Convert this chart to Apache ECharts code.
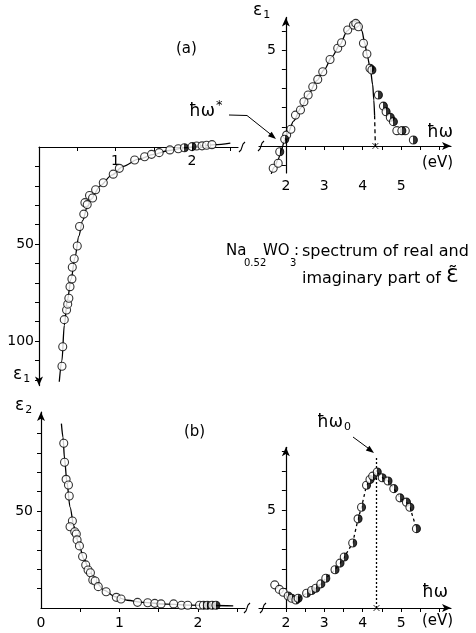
<!DOCTYPE html>
<html>
<head>
<meta charset="utf-8">
<script src="https://cdn.jsdelivr.net/npm/echarts@6/dist/echarts.min.js"></script>
<style>
html, body { margin: 0; padding: 0; background: #fff; }
#chart { width: 476px; height: 633px; }
</style>
</head>
<body>
<div id="chart"></div>
<script>
// Na0.52WO3 - eps1 (a) and eps2 (b) against photon energy (eV)

// (a) eps1, Drude part (left, broken axis)
const e1LowOpen = [[0.30,-113],[0.31,-103],[0.33,-89],[0.36,-84],[0.375,-81],[0.39,-78],[0.405,-72],[0.43,-68],[0.435,-62],[0.46,-57.6],[0.50,-51],[0.53,-41],[0.585,-34.6],[0.60,-28.7],[0.63,-29.7],[0.66,-25],[0.70,-26.3],[0.74,-22],[0.84,-18.4],[0.97,-14],[1.05,-11],[1.25,-6.7],[1.38,-5],[1.47,-3.8],[1.57,-2.9],[1.71,-1.5],[1.82,-0.9],[2.06,0.5],[2.13,0.6],[2.19,0.9],[2.26,1.2]];
const e1LowHalf = [[1.90,-0.4],[2.00,0.2]];
const e1LowCurve = [[0.265,-121],[0.30,-110],[0.33,-92],[0.37,-79],[0.42,-68],[0.47,-57],[0.52,-46],[0.57,-38],[0.63,-31],[0.70,-25.5],[0.80,-20],[0.95,-14.5],[1.10,-10],[1.30,-6.3],[1.50,-3.8],[1.70,-1.8],[1.90,-0.4],[2.10,0.5],[2.30,1.2],[2.50,2]];

// (a) eps1, interband part (right)
const e1HighOpen = [[1.67,-1.16],[1.80,-0.90],[2.02,0.57],[2.13,0.87],[2.25,1.61],[2.38,1.88],[2.47,2.31],[2.58,2.66],[2.70,3.09],[2.83,3.47],[2.96,3.87],[3.15,4.51],[3.35,5.09],[3.45,5.38],[3.61,6.04],[3.76,6.30],[3.82,6.39],[3.89,6.21],[4.02,5.35],[4.11,4.79],[4.89,0.80],[5.11,0.80]];
const e1HighHalf = [[1.84,-0.30],[1.97,0.35],[4.19,4.05],[4.24,3.96],[4.41,2.66],[4.54,2.08],[4.61,1.79],[4.72,1.49],[4.80,1.27],[5.02,0.80],[5.32,0.31]];
const e1HighCurve = [[1.62,-1.45],[1.70,-1.1],[1.80,-0.7],[1.88,-0.2],[1.97,0.3],[2.05,0.65],[2.20,1.3],[2.40,2.0],[2.60,2.72],[2.80,3.4],[3.00,3.98],[3.20,4.65],[3.40,5.25],[3.60,6.0],[3.76,6.4],[3.85,6.55],[3.92,6.45],[3.98,6.0],[4.05,5.4],[4.12,4.7],[4.20,4.0],[4.26,3.2],[4.29,2.4],[4.31,1.6]];
const e1HighDash = [[4.31,1.6],[4.33,0]];
const e1Cross = [[4.33,0]];

// (b) eps2, Drude part (left)
const e2LowOpen = [[0.29,84.9],[0.30,75.1],[0.32,66.3],[0.35,63.4],[0.36,57.7],[0.40,44.8],[0.37,41.9],[0.43,39.3],[0.45,38.1],[0.46,35.1],[0.49,32.0],[0.53,26.5],[0.57,22.2],[0.60,19.6],[0.63,18.2],[0.66,14.4],[0.69,13.9],[0.73,11.0],[0.83,8.4],[0.96,5.5],[1.02,4.6],[1.23,2.9],[1.36,2.7],[1.45,2.4],[1.53,2.1],[1.69,2.1],[1.79,1.4],[1.87,1.4],[2.02,1.4]];
const e2LowHalf = [[2.07,1.4],[2.12,1.4],[2.18,1.4],[2.23,1.4]];
const e2LowCurve = [[0.26,95],[0.28,88],[0.30,77],[0.33,65],[0.37,52],[0.42,42],[0.48,33],[0.55,25],[0.62,19],[0.70,13.5],[0.80,9.2],[0.95,5.8],[1.10,4.0],[1.30,2.9],[1.60,2.0],[1.90,1.5],[2.20,1.3],[2.45,1.1]];

// (b) eps2, interband part (right)
const e2HighOpen = [[1.71,1.18],[1.83,0.95],[1.93,0.80]];
const e2HighHalf = [[2.06,0.61],[2.15,0.50],[2.26,0.41],[2.32,0.50],[2.54,0.75],[2.67,0.89],[2.78,1.01],[2.91,1.23],[3.04,1.52],[3.28,1.95],[3.41,2.29],[3.52,2.60],[3.74,3.32],[3.88,4.55],[3.97,5.14],[4.10,6.26],[4.19,6.56],[4.26,6.73],[4.38,6.94],[4.51,6.65],[4.66,6.48],[4.81,6.09],[4.97,5.62],[5.14,5.40],[5.23,5.14],[5.40,4.05]];
const hw0Line = [[4.36,0],[4.36,7.75]];
const e2Cross = [[4.36,0]];

// ticks / labels
const aLowXTicks = [0.5,1,1.5,2,2.5];
const aLowXLabels = [1,2];
const aLowYTicks = [-10,-20,-30,-40,-50,-60,-70,-80,-90,-100,-110,-120];
const aLowYLabels = [-50,-100];
const highXTicks = [2,2.5,3,3.5,4,4.5,5,5.5,6];
const highXLabels = [2,3,4,5];
const aHighYTicks = [-1,1,2,3,4,5,6];
const aHighYLabels = [5];
const bLowXTicks = [0.5,1,1.5,2,2.5];
const bLowXLabels = [0,1,2];
const bLowYTicks = [10,20,30,40,50,60,70,80,90];
const bLowYLabels = [50];
const bHighYTicks = [1,2,3,4,5,6,7,8];
const bHighYLabels = [5];

const FONT = 'DejaVu Sans';
const HIGH_MIN = 1.3, HIGH_MAX = 6.3, HIGH_W = 192;
// the right-hand eps axes stand at hw = 2 eV, inside their grids
const highYOffset = -(2 - HIGH_MIN) / (HIGH_MAX - HIGH_MIN) * HIGH_W;

const chart = echarts.init(document.getElementById('chart'));

const openStyle = { color: '#fff', borderColor: '#000', borderWidth: 1.1 };
const halfStyle = {
    color: new echarts.graphic.LinearGradient(0, 0, 1, 0, [
        { offset: 0, color: '#fff' }, { offset: 0.5, color: '#fff' },
        { offset: 0.5, color: '#000' }, { offset: 1, color: '#000' }
    ]),
    borderColor: '#000', borderWidth: 1.1
};
const crossStyle = { color: 'none', borderColor: '#000', borderWidth: 1 };

function axisLine(symbol) {
    return { show: true, onZero: true, symbol: symbol, symbolSize: [6, 9], lineStyle: { color: '#000', width: 1.2 } };
}
function ticks(values, inside) {
    return { show: true, inside: !!inside, length: 4, customValues: values, lineStyle: { color: '#000', width: 1 } };
}
function labels(values, extra) {
    return Object.assign({
        show: true, customValues: values, color: '#000', fontFamily: FONT, fontSize: 14,
        formatter: v => String(Math.abs(v))
    }, extra || {});
}
function scatter(data, xi, style) {
    return { type: 'scatter', xAxisIndex: xi, yAxisIndex: xi, data: data, symbol: 'circle', symbolSize: 8, itemStyle: style, clip: false, z: 4, silent: true };
}
function curve(data, xi, lineType, smooth) {
    return { type: 'line', xAxisIndex: xi, yAxisIndex: xi, data: data, showSymbol: false, symbol: 'none', smooth: smooth, smoothMonotone: 'x', clip: false, z: 3, silent: true, lineStyle: { color: '#000', width: 1.3, type: lineType } };
}
function cross(data, xi) {
    return { type: 'scatter', xAxisIndex: xi, yAxisIndex: xi, data: data, symbol: 'path://M0,0L10,10M10,0L0,10', symbolSize: 6, itemStyle: crossStyle, clip: false, z: 5, silent: true };
}

// small helpers for the hand drawn decorations
function breakMark(x, y) {
    return { type: 'polyline', shape: { points: [[x - 3, y + 5], [x - 1, y + 3], [x + 1, y - 3], [x + 3, y - 5]] }, style: { stroke: '#000', lineWidth: 1.1, fill: null } };
}
function arrowHead(x1, y1, x2, y2) {
    const a = Math.atan2(y2 - y1, x2 - x1), l = 8, w = 3;
    const bx = x2 - l * Math.cos(a), by = y2 - l * Math.sin(a);
    return { type: 'polygon', shape: { points: [[x2, y2], [bx + w * Math.sin(a), by - w * Math.cos(a)], [bx - w * Math.sin(a), by + w * Math.cos(a)]] }, style: { fill: '#000' } };
}
function richText(x, y, text, rich) {
    return { type: 'text', x: x, y: y, style: { text: text, rich: rich, fill: '#000', verticalAlign: 'top', align: 'left', fontFamily: FONT } };
}
const richBase = {
    m: { fontFamily: FONT, fontSize: 15, lineHeight: 16, verticalAlign: 'top', color: '#000' },
    c: { fontFamily: FONT, fontSize: 16, lineHeight: 17, verticalAlign: 'top', color: '#000' },
    b: { fontFamily: FONT, fontSize: 17, lineHeight: 18, verticalAlign: 'top', color: '#000' },
    s: { fontFamily: FONT, fontSize: 10, lineHeight: 10, verticalAlign: 'top', color: '#000' },
    e: { fontFamily: FONT, fontSize: 11, lineHeight: 11, verticalAlign: 'top', padding: [8, 0, 0, 1], color: '#000' },
    u: { fontFamily: FONT, fontSize: 13, lineHeight: 13, verticalAlign: 'top', padding: [-4, 0, 0, 1], color: '#000' },
    g: { fontFamily: FONT, fontSize: 20, lineHeight: 20, verticalAlign: 'top', padding: [-4, 0, 0, 0], color: '#000' }
};

const option = {
    animation: false,
    backgroundColor: '#fff',
    grid: [
        { left: 39, top: 147, width: 199, height: 238.6, outerBoundsMode: 'none', containLabel: false },
        { left: 259, top: 17.4, width: HIGH_W, height: 155.5, outerBoundsMode: 'none', containLabel: false },
        { left: 41, top: 412, width: 204, height: 196, outerBoundsMode: 'none', containLabel: false },
        { left: 259, top: 447.3, width: HIGH_W, height: 160.7, outerBoundsMode: 'none', containLabel: false }
    ],
    xAxis: [
        { gridIndex: 0, type: 'value', min: 0, max: 2.6, position: 'top', splitLine: { show: false },
          axisLine: Object.assign(axisLine(['none', 'none']), { onZero: false }),
          axisTick: ticks(aLowXTicks, true), axisLabel: labels(aLowXLabels, { inside: true, margin: 7 }) },
        { gridIndex: 1, type: 'value', min: HIGH_MIN, max: HIGH_MAX, splitLine: { show: false },
          axisLine: axisLine(['none', 'arrow']),
          axisTick: ticks(highXTicks), axisLabel: labels(highXLabels, { margin: 6 }) },
        { gridIndex: 2, type: 'value', min: 0, max: 2.6, splitLine: { show: false },
          axisLine: axisLine(['none', 'none']),
          axisTick: ticks(bLowXTicks), axisLabel: labels(bLowXLabels, { margin: 8 }) },
        { gridIndex: 3, type: 'value', min: HIGH_MIN, max: HIGH_MAX, splitLine: { show: false },
          axisLine: axisLine(['none', 'arrow']),
          axisTick: ticks(highXTicks), axisLabel: labels(highXLabels, { margin: 8 }) }
    ],
    yAxis: [
        { gridIndex: 0, type: 'value', min: -123, max: 0, splitLine: { show: false },
          axisLine: axisLine(['arrow', 'none']),
          axisTick: ticks(aLowYTicks), axisLabel: labels(aLowYLabels, { margin: 5 }) },
        { gridIndex: 1, type: 'value', min: -1.4, max: 6.7, offset: highYOffset, splitLine: { show: false },
          axisLine: Object.assign(axisLine(['none', 'arrow']), { onZero: false }),
          axisTick: ticks(aHighYTicks), axisLabel: labels(aHighYLabels, { margin: 10 }) },
        { gridIndex: 2, type: 'value', min: 0, max: 101, splitLine: { show: false },
          axisLine: axisLine(['none', 'arrow']),
          axisTick: ticks(bLowYTicks), axisLabel: labels(bLowYLabels, { margin: 8 }) },
        { gridIndex: 3, type: 'value', min: 0, max: 8.2, offset: highYOffset, splitLine: { show: false },
          axisLine: Object.assign(axisLine(['none', 'arrow']), { onZero: false }),
          axisTick: ticks(bHighYTicks), axisLabel: labels(bHighYLabels, { margin: 10 }) }
    ],
    series: [
        curve(e1LowCurve, 0, 'solid', 0.3),
        scatter(e1LowOpen, 0, openStyle),
        scatter(e1LowHalf, 0, halfStyle),

        curve(e1HighCurve, 1, 'solid', 0.3),
        curve(e1HighDash, 1, [4, 3], false),
        scatter(e1HighOpen, 1, openStyle),
        scatter(e1HighHalf, 1, halfStyle),
        cross(e1Cross, 1),

        curve(e2LowCurve, 2, 'solid', 0.3),
        scatter(e2LowOpen, 2, openStyle),
        scatter(e2LowHalf, 2, halfStyle),

        curve(e2HighHalf, 3, [3, 3], false),
        curve(hw0Line, 3, [2, 2], false),
        scatter(e2HighOpen, 3, openStyle),
        scatter(e2HighHalf, 3, halfStyle),
        cross(e2Cross, 3)
    ],
    graphic: [
        // axis breaks
        breakMark(242, 147), breakMark(261, 146),
        breakMark(247, 608), breakMark(263, 608),
        // panel labels
        richText(176, 42, '{m|(a)}', richBase),
        richText(184, 425, '{m|(b)}', richBase),
        // eps axis names
        richText(253, 2, '{b|ε}{e|1}', richBase),
        richText(13, 366, '{b|ε}{e|1}', richBase),
        richText(15, 397, '{b|ε}{e|2}', richBase),
        // energy axis names
        richText(427, 124, '{b|ħω}', richBase),
        richText(422, 156, '{m|(eV)}', richBase),
        richText(422, 584, '{b|ħω}', richBase),
        richText(422, 614, '{m|(eV)}', richBase),
        // hw* : eps1 = 0
        richText(189, 103, '{b|ħω}{u|*}', richBase),
        { type: 'polyline', shape: { points: [[229, 115], [247, 115.5], [274, 137]] }, style: { stroke: '#000', lineWidth: 1, fill: null } },
        arrowHead(247, 115.5, 276, 139),
        // hw0
        richText(317, 414, '{b|ħω}{e|0}', richBase),
        { type: 'line', shape: { x1: 353, y1: 437, x2: 372, y2: 451 }, style: { stroke: '#000', lineWidth: 1 } },
        arrowHead(353, 437, 374, 453),
        // caption, piece by piece so the subscripts tuck in
        richText(226, 244, '{m|Na}', richBase),
        richText(244, 258, '{s|0.52}', richBase),
        richText(263, 244, '{m|WO}', richBase),
        richText(290, 258, '{s|3}', richBase),
        richText(294, 244, '{m|:}', richBase),
        richText(302, 244, '{c|spectrum of real and}', richBase),
        richText(302, 271, '{c|imaginary part of }{g|Ɛ̃}', richBase)
    ]
};

chart.setOption(option);
</script>
</body>
</html>
